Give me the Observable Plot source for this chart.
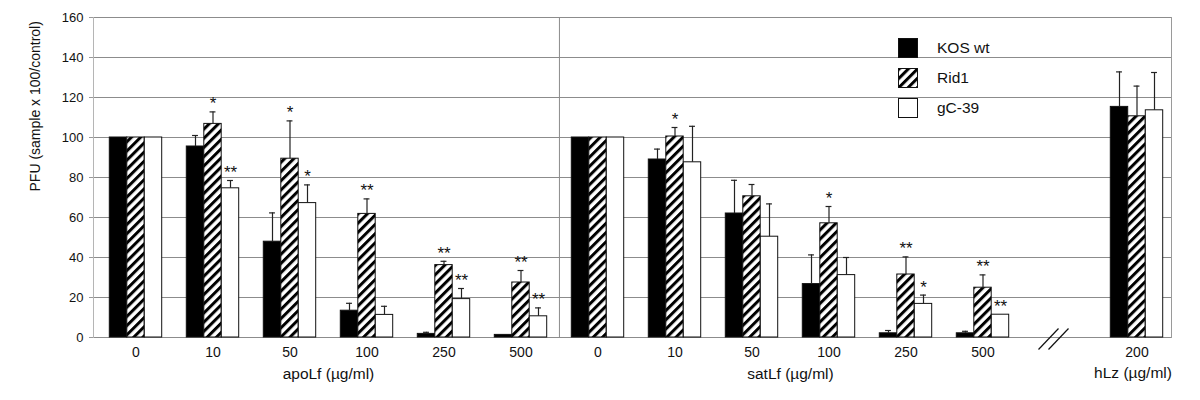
<!DOCTYPE html>
<html>
<head>
<meta charset="utf-8">
<script src="https://cdn.jsdelivr.net/npm/d3@7"></script>
<script src="https://cdn.jsdelivr.net/npm/@observablehq/plot@0.6"></script>
<style>
  body { margin: 0; background: #fff; font-family: "Liberation Sans", Arial, sans-serif; }
  #wrap { position: relative; width: 1200px; height: 400px; }
  .lg-sw { position: absolute; left: 898px; width: 20px; height: 20px; }
  .lg-tx { position: absolute; left: 937px; height: 20px; line-height: 20px; font-size: 15.5px; color: #111; white-space: nowrap; }
</style>
</head>
<body>
<div id="wrap"></div>
<script>
// ---- data ----
const series = ["KOS wt", "Rid1", "gC-39"];
const apoDoses = ["0", "10", "50", "100", "250", "500"];
const satDoses = ["0", "10", "50", "100", "250", "500"];
const hlzDoses = ["200"];
const groupTitles = ["apoLf (\u00b5g/ml)", "satLf (\u00b5g/ml)", "hLz (\u00b5g/ml)"];
const yTicks = [0, 20, 40, 60, 80, 100, 120, 140, 160];
const yTitle = "PFU (sample x 100/control)";

// order: apoLf 0..500, satLf 0..500, hLz 200
const kosValues  = [100, 95.5, 47.9, 13.4, 1.8, 1.3,   100, 89.0, 62.0, 26.7, 2.1, 2.1,   115.3];
const kosErrors  = [0,   5.5,  14.4, 3.7,  0.8, 0,     0,   5.2,  16.6, 14.6, 1.4, 1.0,   17.5];
const kosStars   = ["",  "",   "",   "",   "",  "",    "",  "",   "",   "",   "",  "",    ""];

const ridValues  = [100, 106.8, 89.4, 61.8, 36.2, 27.5,  100, 100.5, 70.6, 57.1, 31.5, 24.9,  110.6];
const ridErrors  = [0,   6.0,   18.9, 7.5,  1.9,  6.0,   0,   4.5,   5.9,  8.4,  8.8,  6.4,   15.1];
const ridStars   = ["",  "*",   "*",  "**", "**", "**",  "",  "*",   "",   "*",  "**", "**",  ""];

const gcValues   = [100, 74.6, 67.2, 11.3, 19.2, 10.6,   100, 87.6, 50.4, 31.2, 16.8, 11.4,   113.6];
const gcErrors   = [0,   3.9,  9.1,  4.3,  5.3,  4.2,    0,   18.0, 16.4, 8.8,  4.4,  0,      18.9];
const gcStars    = ["",  "**", "*",  "",   "**", "**",   "",  "",   "",   "",   "*",  "**",   ""];

// ---- build table ----
const cats = [
  ...apoDoses.map(d => "apoLf|" + d),
  ...satDoses.map(d => "satLf|" + d),
  "break",
  ...hlzDoses.map(d => "hLz|" + d)
];
const dataCats = cats.filter(c => c !== "break");
const seriesData = [
  {values: kosValues, errors: kosErrors, stars: kosStars},
  {values: ridValues, errors: ridErrors, stars: ridStars},
  {values: gcValues,  errors: gcErrors,  stars: gcStars}
];
const rows = seriesData.flatMap((s, si) => dataCats.map((c, i) => ({
  cat: c, series: series[si], si, value: s.values[i], err: s.errors[i], star: s.stars[i]
})));

// ---- geometry / styling ----
const X0 = 96, STEP = 77.1, X1 = X0 + STEP * cats.length;
const barW = 17.5;
const outer = (STEP - 3 * barW) / 2;
const capHalf = 3;
const fills = ["#000", "url(#hatch)", "#fff"];
const font = "'Liberation Sans', Arial, sans-serif";

const seriesMarks = [0, 1, 2].flatMap(si => {
  const mine = rows.filter(r => r.si === si);
  const withErr = mine.filter(r => r.err > 0);
  const left = outer + si * barW;
  const center = left + barW / 2;
  return [
    Plot.barY(mine, {
      x: "cat", y: "value", fill: fills[si], stroke: "#111", strokeWidth: 1,
      insetLeft: left, insetRight: STEP - left - barW
    }),
    Plot.ruleX(withErr, {
      x: "cat", y1: "value", y2: d => d.value + d.err,
      dx: center - STEP / 2, stroke: "#222", strokeWidth: 1.2
    }),
    Plot.tickY(withErr, {
      x: "cat", y: d => d.value + d.err,
      insetLeft: center - capHalf, insetRight: STEP - center - capHalf,
      stroke: "#222", strokeWidth: 1.2
    }),
    Plot.text(mine.filter(r => r.star), {
      x: "cat", y: d => d.value + d.err, text: "star",
      dx: center - STEP / 2, dy: -8, fontSize: 17, fill: "#111"
    })
  ];
});

function breakMark(index, scales) {
  const sx = scales.x, sy = scales.y;
  const bw = typeof sx.bandwidth === "function" ? sx.bandwidth() : (sx.bandwidth || 0);
  const cx = sx("break") + bw / 2 - 6;
  const cy = sy(0) + 2;
  const g = document.createElementNS("http://www.w3.org/2000/svg", "g");
  for (const off of [-5, 5]) {
    const l = document.createElementNS("http://www.w3.org/2000/svg", "line");
    l.setAttribute("x1", cx + off - 10);
    l.setAttribute("y1", cy + 10.5);
    l.setAttribute("x2", cx + off + 10);
    l.setAttribute("y2", cy - 10.5);
    l.setAttribute("stroke", "#111");
    l.setAttribute("stroke-width", 1.2);
    g.appendChild(l);
  }
  return g;
}

const chart = Plot.plot({
  width: 1200,
  height: 400,
  marginLeft: 93,
  marginRight: 29,
  marginTop: 17,
  marginBottom: 63,
  style: {fontFamily: font, color: "#111", background: "#fff"},
  x: {type: "band", domain: cats, range: [X0, X1], padding: 0, label: null},
  y: {domain: [0, 160], label: null},
  marks: [
    Plot.gridY(yTicks, {stroke: "#8c8c8c", strokeOpacity: 1}),
    Plot.frame({anchor: "left", stroke: "#b5b5b5"}),
    Plot.frame({anchor: "right", stroke: "#9a9a9a"}),
    Plot.ruleX(["satLf|0"], {x: d => d, y1: 0, y2: 160, dx: -STEP / 2, stroke: "#8c8c8c"}),
    ...seriesMarks,
    breakMark,
    Plot.axisY(yTicks, {tickSize: 4, tickPadding: 6, fontSize: 13, stroke: "#999", label: null}),
    Plot.axisX({tickSize: 0, tickPadding: 10, fontSize: 14, label: null,
      tickFormat: c => c === "break" ? "" : c.split("|")[1]}),
    Plot.text([{key: "apoLf|100", t: groupTitles[0]}, {key: "satLf|100", t: groupTitles[1]}], {
      x: "key", text: "t", frameAnchor: "bottom", dy: 41, dx: -STEP / 2, fontSize: 15.5, fill: "#111"
    }),
    Plot.text([{key: "hLz|200", t: groupTitles[2]}], {
      x: "key", text: "t", frameAnchor: "bottom", dy: 40, dx: -4, fontSize: 15.5, fill: "#111"
    }),
    Plot.text([yTitle], {
      frameAnchor: "left", rotate: -90, dx: -58, dy: 14, fontSize: 14, fill: "#111"
    })
  ]
});

// hatch pattern
const NS = "http://www.w3.org/2000/svg";
const defs = document.createElementNS(NS, "defs");
defs.innerHTML = '<pattern id="hatch" patternUnits="userSpaceOnUse" width="6.5" height="6.5" patternTransform="rotate(45)">' +
  '<rect width="6.5" height="6.5" fill="#fff"/><rect width="3" height="6.5" fill="#000"/></pattern>';
chart.insertBefore(defs, chart.firstChild);

const wrap = document.getElementById("wrap");
wrap.appendChild(chart);

// legend inside the plot area
series.forEach((name, si) => {
  const top = 38 + 30 * si;
  const fill = si === 0 ? "#000" : si === 1 ? "url(#hatchL)" : "#fff";
  const sw = document.createElement("div");
  sw.className = "lg-sw";
  sw.style.top = top + "px";
  sw.innerHTML =
    '<svg width="20" height="20" style="display:block">' +
    (si === 1 ? '<defs><pattern id="hatchL" patternUnits="userSpaceOnUse" width="6.5" height="6.5" patternTransform="rotate(45)"><rect width="6.5" height="6.5" fill="#fff"/><rect width="3" height="6.5" fill="#000"/></pattern></defs>' : '') +
    '<rect x="0.5" y="0.5" width="19" height="19" fill="' + fill + '" stroke="#111" stroke-width="1"/></svg>';
  const tx = document.createElement("div");
  tx.className = "lg-tx";
  tx.style.top = top + "px";
  tx.textContent = name;
  wrap.appendChild(sw);
  wrap.appendChild(tx);
});
</script>
</body>
</html>
